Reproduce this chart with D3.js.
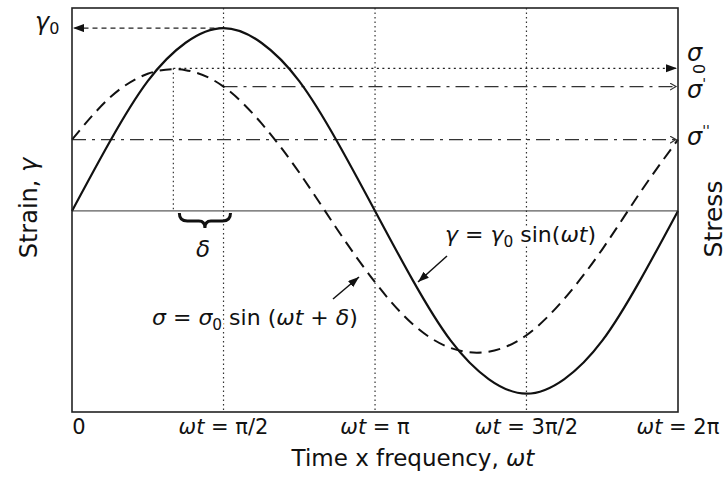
<!DOCTYPE html>
<html>
<head>
<meta charset="utf-8">
<script src="https://cdn.jsdelivr.net/npm/d3@7"></script>
<style>
  body { margin: 0; background: #fff; }
  svg { font-family: "DejaVu Sans", sans-serif; fill: #111; }
  .halo { paint-order: stroke; stroke: #fff; stroke-width: 5px; stroke-linejoin: round; }
</style>
</head>
<body>
<div id="chart"></div>
<script>
// phase angle omega*t (radians) at the sampled points
const omegaT = [0, 0.393, 0.785, 1.178, 1.571, 1.963, 2.356, 2.749, 3.142,
                3.534, 3.927, 4.320, 4.712, 5.105, 5.498, 5.890, 6.283];
// strain (solid) and stress (dashed)
const strain = [0, 0.38, 0.71, 0.92, 1.00, 0.92, 0.71, 0.38, 0,
                -0.38, -0.71, -0.92, -1.00, -0.92, -0.71, -0.38, 0];
const stress = [0.39, 0.62, 0.75, 0.77, 0.68, 0.48, 0.21, -0.10, -0.39,
                -0.62, -0.75, -0.77, -0.68, -0.48, -0.21, 0.10, 0.39];

// x-axis ticks
const tickValues = [0, 1.571, 3.142, 4.712, 6.283];
const tickLabels = ["0", "ωt = π/2", "ωt = π", "ωt = 3π/2", "ωt = 2π"];

// reference levels and phase lag
const gamma0 = 1.0;
const sigma0 = 0.78;
const sigmaPrime = 0.68;
const sigmaDouble = 0.39;
const delta = 0.52;

const config = {
    containerWidth: 728,
    containerHeight: 479,
    margin: {top: 8, right: 50, bottom: 67, left: 72}
};

const width = config.containerWidth - config.margin.left - config.margin.right;
const height = config.containerHeight - config.margin.top - config.margin.bottom;

const svg = d3.select('#chart').append('svg')
    .attr('width', config.containerWidth)
    .attr('height', config.containerHeight);

const defs = svg.append('defs');
defs.append('marker')
    .attr('id', 'arrow-fill')
    .attr('markerUnits', 'userSpaceOnUse')
    .attr('markerWidth', 12).attr('markerHeight', 10)
    .attr('refX', 11).attr('refY', 4)
    .attr('orient', 'auto')
  .append('path')
    .attr('d', 'M0,0 L11,4 L0,8 Z')
    .attr('fill', '#111');
defs.append('marker')
    .attr('id', 'arrow-open')
    .attr('markerUnits', 'userSpaceOnUse')
    .attr('markerWidth', 8).attr('markerHeight', 10)
    .attr('refX', 6).attr('refY', 4)
    .attr('orient', 'auto')
  .append('path')
    .attr('d', 'M0,0.5 L6,4 L0,7.5')
    .attr('fill', 'none')
    .attr('stroke', '#333')
    .attr('stroke-width', 1.2);

const chart = svg.append('g')
    .attr('transform', `translate(${config.margin.left},${config.margin.top})`);

const x = d3.scaleLinear().domain([0, 2 * Math.PI]).range([0, width]);
const y = d3.scaleLinear().domain([-1.1, 1.11]).range([height, 0]);

// vertical dotted guides at pi/2, pi, 3pi/2
chart.selectAll('.vguide')
    .data(tickValues.slice(1, 4))
  .join('line')
    .attr('class', 'vguide')
    .attr('x1', d => x(d)).attr('x2', d => x(d))
    .attr('y1', 0).attr('y2', height)
    .attr('stroke', '#333')
    .attr('stroke-width', 1.2)
    .attr('stroke-dasharray', '1.5,3');

// dotted guide at the stress peak
chart.append('line')
    .attr('x1', x(Math.PI / 2 - delta)).attr('x2', x(Math.PI / 2 - delta))
    .attr('y1', y(sigma0)).attr('y2', y(0))
    .attr('stroke', '#333')
    .attr('stroke-width', 1.2)
    .attr('stroke-dasharray', '1.5,3');

// zero line
chart.append('line')
    .attr('x1', 0).attr('x2', width)
    .attr('y1', y(0)).attr('y2', y(0))
    .attr('stroke', '#333')
    .attr('stroke-width', 1);

// gamma0 level, dashed, arrow to the left axis
chart.append('line')
    .attr('x1', x(Math.PI / 2)).attr('x2', 1)
    .attr('y1', y(gamma0)).attr('y2', y(gamma0))
    .attr('stroke', '#222')
    .attr('stroke-width', 1.2)
    .attr('stroke-dasharray', '5,4')
    .attr('marker-end', 'url(#arrow-fill)');

// sigma0 level, dotted, arrow to the right axis
chart.append('line')
    .attr('x1', x(Math.PI / 2 - delta)).attr('x2', width - 1)
    .attr('y1', y(sigma0)).attr('y2', y(sigma0))
    .attr('stroke', '#222')
    .attr('stroke-width', 1.4)
    .attr('stroke-dasharray', '2,3.5')
    .attr('marker-end', 'url(#arrow-fill)');

// sigma' and sigma'' levels, dash-dot
chart.append('line')
    .attr('x1', x(Math.PI / 2)).attr('x2', width - 2)
    .attr('y1', y(sigmaPrime)).attr('y2', y(sigmaPrime))
    .attr('stroke', '#333')
    .attr('stroke-width', 1.2)
    .attr('stroke-dasharray', '14,6,3,6')
    .attr('marker-end', 'url(#arrow-open)');
chart.append('line')
    .attr('x1', 0).attr('x2', width - 2)
    .attr('y1', y(sigmaDouble)).attr('y2', y(sigmaDouble))
    .attr('stroke', '#333')
    .attr('stroke-width', 1.2)
    .attr('stroke-dasharray', '14,6,3,6')
    .attr('marker-end', 'url(#arrow-open)');

// annotation labels (halo hides the guides behind them)
function mathText(sel, parts) {
    parts.forEach(p => {
        const t = sel.append('tspan').text(p.t);
        if (p.i) t.attr('font-style', 'italic');
        if (p.sub) t.attr('font-size', '0.7em').attr('dy', p.dy);
        if (p.dy && !p.sub) t.attr('dy', p.dy);
    });
}

const gammaLabel = chart.append('text')
    .attr('class', 'halo')
    .attr('x', 445 - config.margin.left)
    .attr('y', 242 - config.margin.top)
    .attr('font-size', 22);
mathText(gammaLabel, [
    {t: 'γ', i: true}, {t: ' = '}, {t: 'γ', i: true},
    {t: '0', sub: true, dy: 5}, {t: ' sin(', dy: -5}, {t: 'ωt', i: true}, {t: ')'}
]);

const sigmaLabel = chart.append('text')
    .attr('class', 'halo')
    .attr('x', 152 - config.margin.left)
    .attr('y', 325 - config.margin.top)
    .attr('font-size', 22);
mathText(sigmaLabel, [
    {t: 'σ', i: true}, {t: ' = '}, {t: 'σ', i: true},
    {t: '0', sub: true, dy: 5}, {t: ' sin (', dy: -5}, {t: 'ωt', i: true},
    {t: ' + '}, {t: 'δ', i: true}, {t: ')'}
]);

// leader arrows from the labels to the curves
chart.append('line')
    .attr('x1', 447 - config.margin.left).attr('y1', 256 - config.margin.top)
    .attr('x2', 418 - config.margin.left).attr('y2', 282 - config.margin.top)
    .attr('stroke', '#111').attr('stroke-width', 1.5)
    .attr('marker-end', 'url(#arrow-fill)');
chart.append('line')
    .attr('x1', 333 - config.margin.left).attr('y1', 299 - config.margin.top)
    .attr('x2', 359 - config.margin.left).attr('y2', 277 - config.margin.top)
    .attr('stroke', '#111').attr('stroke-width', 1.5)
    .attr('marker-end', 'url(#arrow-fill)');

// delta brace between stress peak and strain peak
const bx0 = x(Math.PI / 2 - delta) + 6, bx1 = x(Math.PI / 2) + 7;
const bm = (bx0 + bx1) / 2, b0 = y(0) + 2, b1 = y(0) + 10, b2 = y(0) + 17;
chart.append('path')
    .attr('d', `M${bx0},${b0} Q${bx0},${b1} ${bx0 + 8},${b1} L${bm - 6},${b1} Q${bm},${b1} ${bm},${b2}
                Q${bm},${b1} ${bm + 6},${b1} L${bx1 - 8},${b1} Q${bx1},${b1} ${bx1},${b0}`)
    .attr('fill', 'none')
    .attr('stroke', '#111')
    .attr('stroke-width', 3);
chart.append('text')
    .attr('x', bm - 2)
    .attr('y', y(0) + 46)
    .attr('text-anchor', 'middle')
    .attr('font-size', 23)
    .attr('font-style', 'italic')
    .text('δ');

// curves
const line = d3.line()
    .x((d, i) => x(omegaT[i]))
    .y(d => y(d))
    .curve(d3.curveNatural);

chart.append('path')
    .datum(stress)
    .attr('d', line)
    .attr('fill', 'none')
    .attr('stroke', '#111')
    .attr('stroke-width', 2)
    .attr('stroke-dasharray', '12,7');

chart.append('path')
    .datum(strain)
    .attr('d', line)
    .attr('fill', 'none')
    .attr('stroke', '#111')
    .attr('stroke-width', 2.2);

// frame
chart.append('rect')
    .attr('x', 0).attr('y', 0)
    .attr('width', width).attr('height', height)
    .attr('fill', 'none')
    .attr('stroke', '#222')
    .attr('stroke-width', 1.6);

// x tick labels
const tickText = chart.selectAll('.tick-label')
    .data(tickLabels)
  .join('text')
    .attr('class', 'tick-label')
    .attr('x', (d, i) => i === 0 ? x(tickValues[i]) + 7 : x(tickValues[i]))
    .attr('y', height + 22)
    .attr('text-anchor', 'middle')
    .attr('font-size', 21);
tickText.each(function(d) {
    const t = d3.select(this);
    if (d.startsWith('ωt')) {
        t.append('tspan').attr('font-style', 'italic').text('ωt');
        t.append('tspan').text(d.slice(2));
    } else {
        t.text(d);
    }
});

// axis titles
const xTitle = svg.append('text')
    .attr('x', 413)
    .attr('y', 466)
    .attr('text-anchor', 'middle')
    .attr('font-size', 23);
xTitle.append('tspan').text('Time x frequency, ');
xTitle.append('tspan').attr('font-style', 'italic').text('ωt');

const yTitle = svg.append('text')
    .attr('transform', 'translate(37,208) rotate(-90)')
    .attr('text-anchor', 'middle')
    .attr('font-size', 24);
yTitle.append('tspan').text('Strain, ');
yTitle.append('tspan').attr('font-style', 'italic').text('γ');

svg.append('text')
    .attr('transform', 'translate(722,219) rotate(-90)')
    .attr('text-anchor', 'middle')
    .attr('font-size', 25)
    .text('Stress');

// level labels
const g0 = svg.append('text').attr('x', 35).attr('y', 30).attr('font-size', 24);
g0.append('tspan').attr('font-style', 'italic').text('γ');
g0.append('tspan').attr('font-size', 16).attr('dy', 4).text('0');

const s0 = svg.append('text').attr('x', 687).attr('y', 61).attr('font-size', 24);
s0.append('tspan').attr('font-style', 'italic').text('σ');
svg.append('text')
    .attr('transform', 'translate(699,69) rotate(-90)')
    .attr('text-anchor', 'middle')
    .attr('dy', '0.35em')
    .attr('font-size', 16)
    .text('0');

const s1 = svg.append('text').attr('x', 687).attr('y', 98).attr('font-size', 24);
s1.append('tspan').attr('font-style', 'italic').text('σ');
s1.append('tspan').attr('font-size', 14).attr('dy', -10).text('\'');

const s2 = svg.append('text').attr('x', 687).attr('y', 145).attr('font-size', 24);
s2.append('tspan').attr('font-style', 'italic').text('σ');
s2.append('tspan').attr('font-size', 14).attr('dy', -10).text('\'\'');
</script>
</body>
</html>
